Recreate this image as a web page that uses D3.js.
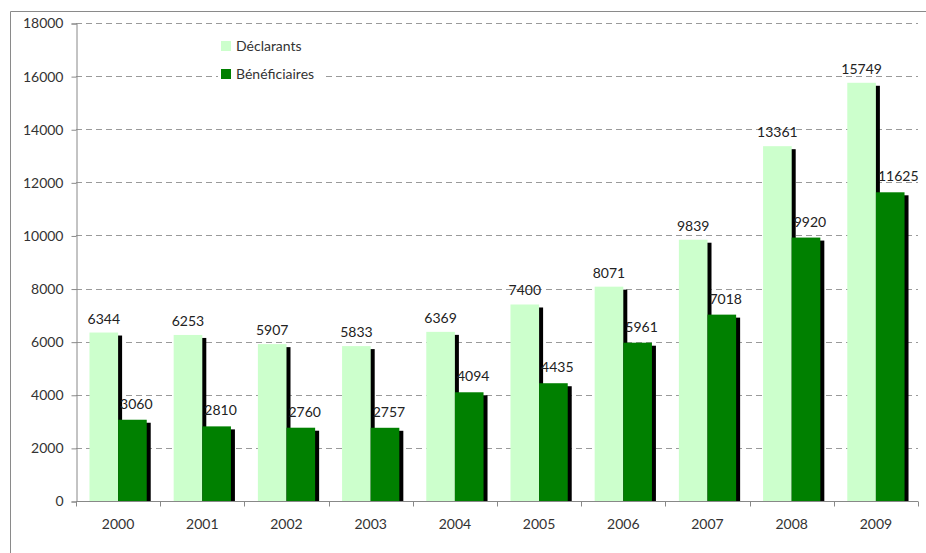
<!DOCTYPE html>
<html>
<head>
<meta charset="utf-8">
<script src="https://cdn.jsdelivr.net/npm/d3@7"></script>
<style>
  body { margin: 0; background: #fff; }
  svg { display: block; font-family: Lato, "Open Sans", sans-serif; }
</style>
</head>
<body>
<div id="chart"></div>
<script>
// Data
const years = ["2000", "2001", "2002", "2003", "2004", "2005", "2006", "2007", "2008", "2009"];
const declarants = [6344, 6253, 5907, 5833, 6369, 7400, 8071, 9839, 13361, 15749];
const beneficiaires = [3060, 2810, 2760, 2757, 4094, 4435, 5961, 7018, 9920, 11625];
const seriesNames = ["Déclarants", "Bénéficiaires"];
const seriesColors = ["#ccffcc", "#008000"];
const yTicks = [0, 2000, 4000, 6000, 8000, 10000, 12000, 14000, 16000, 18000];

const width = 926, height = 553;
const plot = { left: 76, right: 918, top: 23, bottom: 501 };

const svg = d3.select("#chart").append("svg")
  .attr("width", width)
  .attr("height", height);

// outer frame (only top and left edges visible)
svg.append("path")
  .attr("d", `M10.5,${height} V11.5 H${width}`)
  .attr("fill", "none")
  .attr("stroke", "#8a8a8a")
  .attr("stroke-width", 1);

const x = d3.scaleBand()
  .domain(years)
  .range([plot.left, plot.right])
  .paddingInner(0.32)
  .paddingOuter(0.16);

const xSub = d3.scaleBand()
  .domain([0, 1])
  .range([0, x.bandwidth()])
  .padding(0);

const y = d3.scaleLinear()
  .domain([0, 18000])
  .range([plot.bottom, plot.top]);

// dashed gridlines
svg.append("g")
  .selectAll("line")
  .data(yTicks.filter(d => d > 0))
  .enter().append("line")
  .attr("x1", plot.left)
  .attr("x2", plot.right)
  .attr("y1", d => Math.round(y(d)) + 0.5)
  .attr("y2", d => Math.round(y(d)) + 0.5)
  .attr("stroke", "#9a9a9a")
  .attr("stroke-width", 1)
  .attr("stroke-dasharray", "6,4");

// y axis
const yAxis = svg.append("g")
  .attr("transform", `translate(${plot.left + 0.5},0.5)`)
  .call(d3.axisLeft(y).tickValues(yTicks).tickSize(5).tickPadding(8).tickFormat(d3.format("d")));
yAxis.selectAll("path, line").attr("stroke", "#888");
yAxis.selectAll("text")
  .attr("fill", "#333")
  .style("font-size", "14px")
  .style("font-family", "Lato, 'Open Sans', sans-serif");

// legend (white box hides the gridline behind it)
const legend = svg.append("g").attr("transform", "translate(218,36)");
legend.append("rect")
  .attr("x", 0).attr("y", 0)
  .attr("width", 104).attr("height", 48)
  .attr("fill", "#fff");
seriesNames.forEach((name, i) => {
  const row = legend.append("g").attr("transform", `translate(3,${5 + i * 28})`);
  row.append("rect")
    .attr("width", 10).attr("height", 10)
    .attr("fill", seriesColors[i]);
  row.append("text")
    .attr("x", 15).attr("y", 10)
    .attr("fill", "#333")
    .style("font-size", "14px")
    .text(name);
});

// bars with a drop shadow on the right
const groups = svg.append("g")
  .selectAll("g")
  .data(years.map((yr, i) => ({ year: yr, values: [declarants[i], beneficiaires[i]] })))
  .enter().append("g")
  .attr("transform", d => `translate(${x(d.year)},0)`);

groups.each(function (d) {
  const g = d3.select(this);
  d.values.forEach((v, i) => {
    const bx = xSub(i), bw = xSub.bandwidth();
    g.append("rect")
      .attr("x", bx + 4)
      .attr("y", y(v) + 3)
      .attr("width", bw)
      .attr("height", plot.bottom - y(v) - 3)
      .attr("fill", "#000");
    g.append("rect")
      .attr("x", bx)
      .attr("y", y(v))
      .attr("width", bw)
      .attr("height", plot.bottom - y(v))
      .attr("fill", seriesColors[i]);
  });
  // value labels
  g.append("text")
    .attr("x", xSub(0) + xSub.bandwidth() / 2)
    .attr("y", y(d.values[0]) - 9)
    .attr("text-anchor", "middle")
    .attr("fill", "#222")
    .style("font-size", "14px")
    .text(d.values[0]);
  g.append("text")
    .attr("x", xSub(1) + 2)
    .attr("y", y(d.values[1]) - 11)
    .attr("fill", "#222")
    .style("font-size", "14px")
    .text(d.values[1]);
});

// x axis
const xAxis = svg.append("g")
  .attr("transform", `translate(0,${plot.bottom + 0.5})`);
xAxis.append("line")
  .attr("x1", plot.left).attr("x2", plot.right)
  .attr("stroke", "#888");
xAxis.selectAll(".tick")
  .data(d3.range(years.length + 1))
  .enter().append("line")
  .attr("class", "tick")
  .attr("x1", i => Math.round(plot.left + i * x.step()) + 0.5)
  .attr("x2", i => Math.round(plot.left + i * x.step()) + 0.5)
  .attr("y1", 0).attr("y2", 5)
  .attr("stroke", "#888");
xAxis.selectAll(".label")
  .data(years)
  .enter().append("text")
  .attr("class", "label")
  .attr("x", d => x(d) + x.bandwidth() / 2)
  .attr("y", 27)
  .attr("text-anchor", "middle")
  .attr("fill", "#333")
  .style("font-size", "14px")
  .text(d => d);
</script>
</body>
</html>
